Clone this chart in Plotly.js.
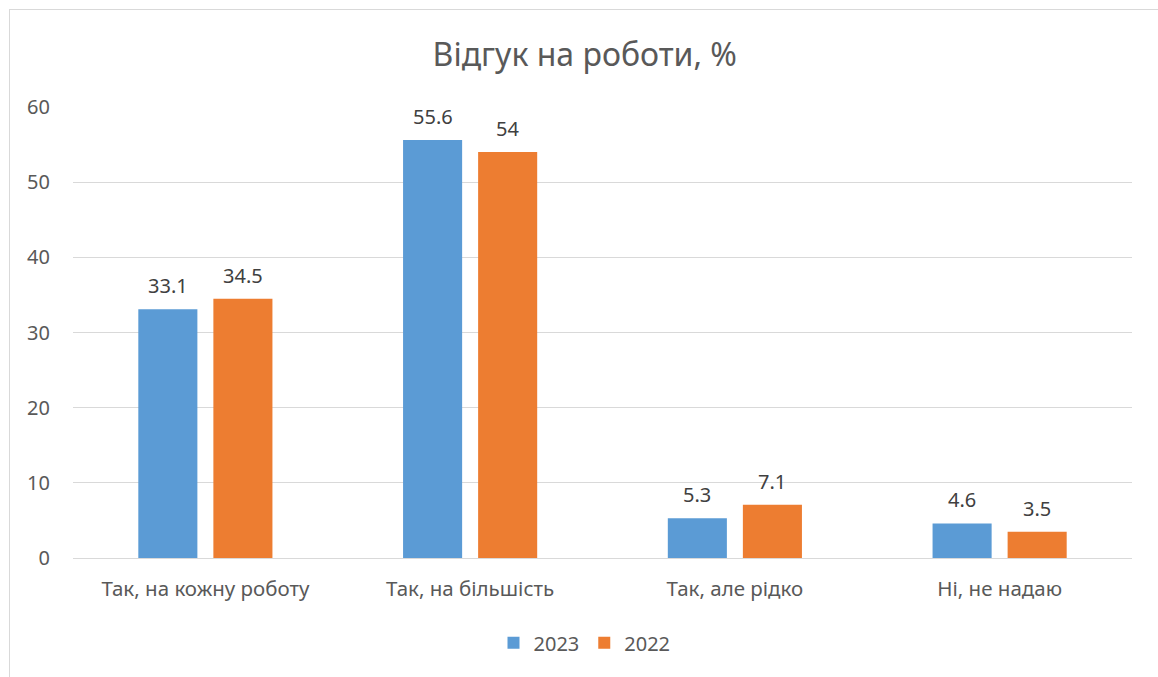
<!DOCTYPE html>
<html><head><meta charset="utf-8">
<script src="https://cdn.plot.ly/plotly-3.0.1.min.js"></script>
<style>
html,body{margin:0;padding:0;background:#fff;}
#wrap{position:relative;width:1158px;height:677px;overflow:hidden;}
#chart{position:absolute;left:0;top:0;width:1158px;height:677px;}
#frame{position:absolute;left:9px;top:9px;width:1200px;height:700px;border-left:1px solid #d9d9d9;border-top:1px solid #d9d9d9;pointer-events:none;}
</style></head>
<body><div id="wrap"><div id="chart"></div><div id="frame"></div></div>
<script>
const categories = ["Так, на кожну роботу", "Так, на більшість", "Так, але рідко", "Ні, не надаю"];
const values2023 = [33.1, 55.6, 5.3, 4.6];
const values2022 = [34.5, 54, 7.1, 3.5];
const seriesNames = ["2023", "2022"];
const yTicks = [0, 10, 20, 30, 40, 50, 60];

const FONT = "Noto Sans, Open Sans, sans-serif";
const mk = (name, vals, color) => ({
  type: 'bar', name: name, x: categories, y: vals,
  marker: {color: color}, hoverinfo: 'none'
});
const data = [mk(seriesNames[0], values2023, '#5b9bd5'), mk(seriesNames[1], values2022, '#ed7d31')];
const annotations = [];
[[values2023, -37.5], [values2022, 37.5]].forEach(([vals, dx]) => {
  vals.forEach((v, i) => annotations.push({
    x: categories[i], y: v, xref: 'x', yref: 'y', text: String(v), showarrow: false,
    xanchor: 'center', yanchor: 'bottom', xshift: dx, yshift: 8,
    font: {family: FONT, size: 20, color: '#404040'}
  }));
});
const layout = {
  width: 1158, height: 677,
  margin: {l: 73, r: 26, t: 107, b: 119},
  paper_bgcolor: '#fff', plot_bgcolor: '#fff',
  title: {text: 'Відгук на роботи, %', x: 0.505, xanchor: 'center', y: 0.919, yanchor: 'middle',
          font: {family: FONT, size: 32, color: '#595959'}},
  bargap: 0.433, bargroupgap: 0.213, barmode: 'group',
  xaxis: {tickfont: {family: FONT, size: 20.5, color: '#595959'}, showgrid: false, showline: false,
          ticks: '', ticklabelstandoff: 16, fixedrange: true},
  yaxis: {range: [0, 60], tickvals: yTicks, ticktext: yTicks.map(String),
          tickfont: {family: FONT, size: 20, color: '#595959'},
          gridcolor: '#d9d9d9', gridwidth: 1, zeroline: true, zerolinecolor: '#d9d9d9', zerolinewidth: 1,
          showline: false, ticks: '', ticklabelstandoff: 22, fixedrange: true},
  legend: {orientation: 'h', x: 0.483, xanchor: 'center', y: -0.188, yanchor: 'middle',
           font: {family: FONT, size: 20, color: '#595959'}, traceorder: 'normal', itemwidth: 30},
  annotations: annotations,
  showlegend: true
};
Plotly.newPlot('chart', data, layout, {displayModeBar: false, staticPlot: true});
</script></body></html>
